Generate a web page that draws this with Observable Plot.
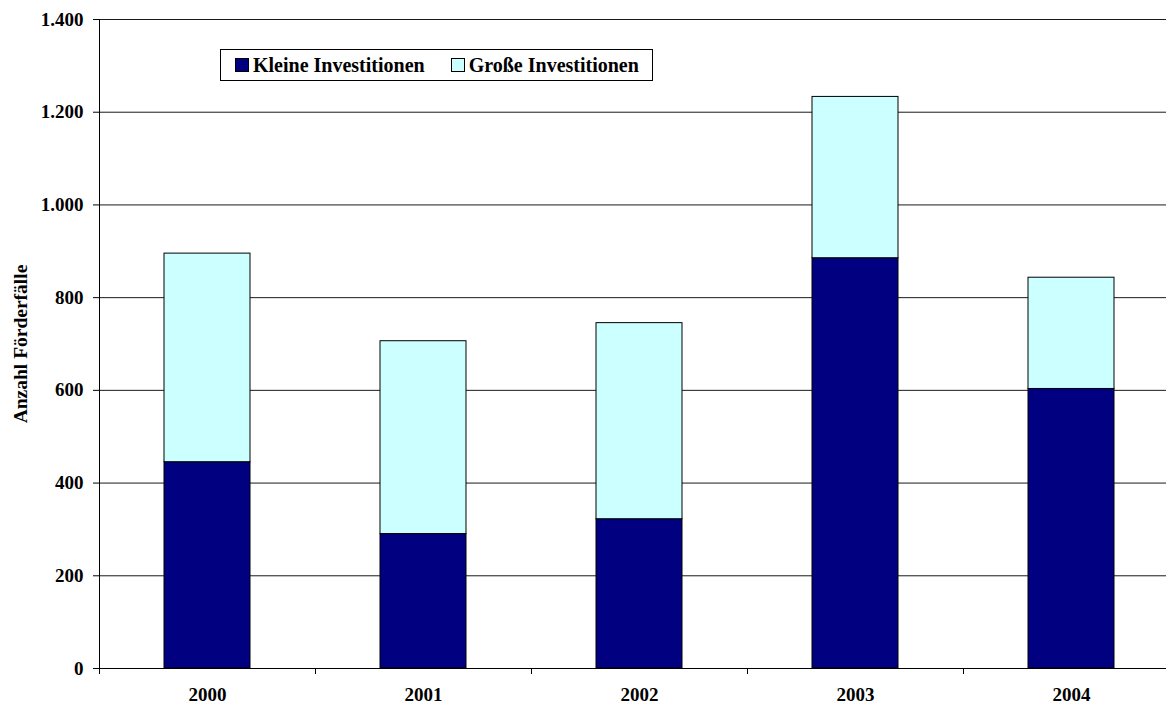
<!DOCTYPE html>
<html>
<head>
<meta charset="utf-8">
<script src="https://cdn.jsdelivr.net/npm/d3@7"></script>
<script src="https://cdn.jsdelivr.net/npm/@observablehq/plot@0.6"></script>
<style>
  html, body { margin: 0; padding: 0; background: #fff; }
  #wrap { position: relative; width: 1166px; height: 708px; overflow: hidden; font-family: "Liberation Serif", "Times New Roman", serif; }
  #legend { position: absolute; left: 220px; top: 49px; width: 431px; height: 30px; border: 1px solid #000; background: #fff;
            display: flex; align-items: center; font-weight: bold; font-size: 20px; box-sizing: content-box; }
  .item { display: flex; align-items: center; }
  .sw { width: 12px; height: 12px; border: 1px solid #000; margin-right: 4px; }
</style>
</head>
<body>
<div id="wrap"><div id="chart"></div><div id="legend"></div></div>
<script>
const years = ["2000", "2001", "2002", "2003", "2004"];
const seriesNames = ["Kleine Investitionen", "Große Investitionen"];
const seriesColors = ["#000080", "#CCFFFF"];
const kleine = [445, 290, 322, 885, 603];
const grosse = [450, 416, 423, 348, 240];
const yTicks = [0, 200, 400, 600, 800, 1000, 1200, 1400];
const yLabel = "Anzahl Förderfälle";

const data = years.flatMap((y, i) => [
  {year: y, series: seriesNames[0], value: kleine[i]},
  {year: y, series: seriesNames[1], value: grosse[i]}
]);

const W = 1166, H = 708;
const xRange = [99, 1179];
const halfStep = (xRange[1] - xRange[0]) / years.length / 2;
const fmt = d => d3.format(",")(d).replace(/,/g, ".");

const chart = Plot.plot({
  width: W, height: H,
  marginLeft: 99, marginTop: 19, marginBottom: 40, marginRight: 0,
  style: {fontFamily: "'Liberation Serif', 'Times New Roman', serif", fontSize: "19px", fontWeight: "bold", background: "#fff", overflow: "visible"},
  x: {domain: years, range: xRange, paddingInner: 0.6, paddingOuter: 0.3},
  y: {domain: [0, 1400]},
  color: {domain: seriesNames, range: seriesColors},
  marks: [
    Plot.ruleY(yTicks.slice(1), {stroke: "#1a1a1a", strokeWidth: 1}),
    Plot.barY(data, {x: "year", y: "value", fill: "series", stroke: "#000", strokeWidth: 1}),
    Plot.ruleY([0], {stroke: "#000", strokeWidth: 1}),
    Plot.frame({anchor: "left", stroke: "#000"}),
    Plot.axisY({ticks: yTicks, tickSize: 6, tickPadding: 10, tickFormat: fmt, fill: "#000", label: null}),
    Plot.axisX({tickSize: 0, tickPadding: 19, fill: "#000", label: null}),
    Plot.axisX({tickSize: 6, dx: -halfStep, tickFormat: () => "", label: null}),
    Plot.text([yLabel], {frameAnchor: "left", dx: -79, rotate: -90, textAnchor: "middle", fontSize: 19.5, fontWeight: "bold", fill: "#000", text: d => d})
  ]
});
document.getElementById("chart").appendChild(chart);

const legend = document.getElementById("legend");
seriesNames.forEach((name, i) => {
  const item = document.createElement("div");
  item.className = "item";
  item.style.marginLeft = i === 0 ? "14px" : "26px";
  const sw = document.createElement("div");
  sw.className = "sw";
  sw.style.background = seriesColors[i];
  const label = document.createElement("span");
  label.textContent = name;
  item.appendChild(sw);
  item.appendChild(label);
  legend.appendChild(item);
});
</script>
</body>
</html>
